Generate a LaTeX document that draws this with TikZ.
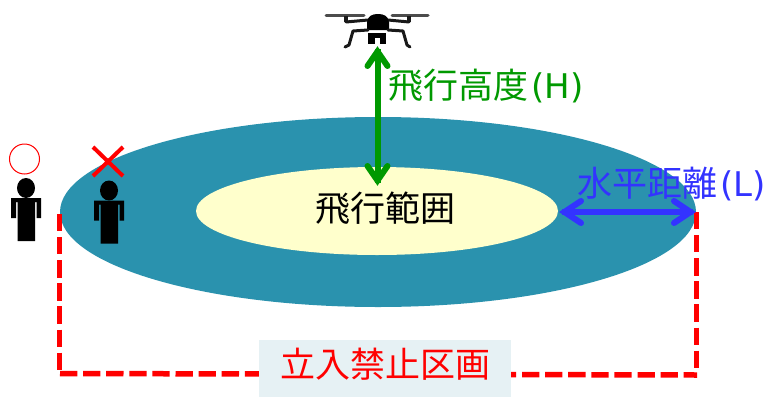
\documentclass[tikz,border=0pt]{standalone}
\usepackage{fontspec}
\setmainfont{Noto Sans CJK JP}
\newfontfamily\latinlab{DejaVu Sans}
\usetikzlibrary{arrows.meta}
\definecolor{teal1}{HTML}{2A92AE}
\definecolor{cream}{HTML}{FFFFCC}
\definecolor{lab}{HTML}{E6F1F4}
\definecolor{grn}{HTML}{009900}
\definecolor{blu}{HTML}{3333FF}
\pgfdeclarearrow{
  name=Chev,
  parameters={\the\pgfarrowlength,\the\pgfarrowwidth},
  defaults={length=22pt,width=22pt},
  setup code={
    \pgfarrowssettipend{0pt}
    \pgfarrowssetlineend{-4pt}
    \pgfarrowssetvisualbackend{-\pgfarrowlength}
    \pgfarrowssetbackend{-\pgfarrowlength}
    \pgfarrowshullpoint{0pt}{0pt}
    \pgfarrowsupperhullpoint{-\pgfarrowlength}{.5\pgfarrowwidth}
    \pgfarrowssavethe\pgfarrowlength
    \pgfarrowssavethe\pgfarrowwidth
  },
  drawing code={
    \pgfsetdash{}{0pt}
    \pgfsetlinewidth{6pt}
    \pgfsetroundcap
    \pgfsetmiterjoin
    \pgfpathmoveto{\pgfqpoint{-\pgfarrowlength}{.5\pgfarrowwidth}}
    \pgfpathlineto{\pgfqpoint{-6.5pt}{0pt}}
    \pgfpathlineto{\pgfqpoint{-\pgfarrowlength}{-.5\pgfarrowwidth}}
    \pgfusepathqstroke
  }
}
\tikzset{
 lbl/.style={inner sep=0pt,font=\fontsize{35}{35}\selectfont},
 dashline/.style={draw=red,line width=5.5pt,dash pattern=on 17.3pt off 5.8pt},
 grnarrow/.style={draw=grn,line width=6pt,{Chev[length=21pt,width=20pt]}-{Chev[length=21pt,width=20pt]}},
 bluarrow/.style={draw=blu,line width=6pt,{Chev[length=23pt,width=22pt]}-{Chev[length=23pt,width=22pt]}},
 dronepart/.style={draw=black!90,line width=3pt,line cap=round,line join=round},
}
\newcommand{\latn}[1]{{\hspace{3pt}\latinlab\fontsize{34}{35}\selectfont #1}}
\newcommand{\personfig}[2]{%
 \begin{scope}[shift={(#1,#2)}]
  \fill (26,188) ellipse [x radius=9,y radius=10];
  \fill (11,198) -- (41,198) -- (41,218) -- (36.5,218) -- (36.5,202) -- (35,202) -- (35,241) -- (17.5,241) -- (17.5,202) -- (16,202) -- (16,218) -- (11,218) -- cycle;
 \end{scope}}
\begin{document}
\begin{tikzpicture}[x=1pt,y=-1pt]
\useasboundingbox (0,0) rectangle (765,399);
\fill[white] (0,0) rectangle (765,399);
\fill[teal1] (378,212) ellipse [x radius=318,y radius=95];
\fill[cream] (377,211) ellipse [x radius=181,y radius=44];
% drone
\draw[dronepart,black!70] (326,15) -- (364,15);
\draw[dronepart,black!70] (392,15) -- (428,15);
\draw[dronepart,line width=4pt,line cap=butt] (346,16) -- (346,22);
\draw[dronepart,line width=4pt,line cap=butt] (409,16) -- (409,22);
\draw[dronepart] (346,22) -- (368,20);
\draw[dronepart] (409,22) -- (388,20);
\fill[black] (367,30) -- (367,22) .. controls (368,16) and (372,14) .. (378,14) .. controls (384,14) and (388,16) .. (389,22) -- (389,30) -- cycle;
\draw[dronepart] (368,30) -- (353,31) -- (349,45) -- (345,47);
\draw[dronepart] (388,30) -- (403,31) -- (407,45) -- (410,47);
\fill[black] (368,33) rectangle (386,44);
\fill[white] (375,38) rectangle (380,44);
% dashed boundary
\coordinate (dl) at (59.5,214);
\coordinate (dlb) at (59.5,371);
\coordinate (bl) at (60,373.5);
\coordinate (br) at (697,375);
\coordinate (dr) at (696.5,212);
\coordinate (drb) at (696.5,369);
\draw[dashline] (dl) -- (dlb);
\draw[dashline] (bl) -- (br);
\draw[dashline] (dr) -- (drb);
% label
\node[fill=lab,minimum width=252pt,minimum height=57pt,inner sep=0pt] (zone) at (385,368.5) {};
\node[lbl,text=red] (zonet) at (385,364) {立入禁止区画};
% arrows
\coordinate (gt) at (377.5,45);
\coordinate (gb) at (377.5,187);
\draw[grnarrow] (gt) -- (gb);
\coordinate (bl2) at (558,212);
\coordinate (br2) at (697,212);
\draw[bluarrow] (bl2) -- (br2);
% texts
\node[lbl,text=grn,anchor=west] (h) at (388,86) {飛行高度\latn{(H)}};
\node[lbl,text=blu,anchor=west] (l) at (577,184) {水平距離\latn{(L)}};
\node[lbl,text=black] (f) at (385,208) {飛行範囲};
% people
\personfig{0}{0}
\personfig{83}{2.5}
\draw[red,line width=1pt] (24.5,159) circle [radius=15];
\draw[red,line width=4pt] (93,147) -- (123,176) (123,147) -- (93,176);
\end{tikzpicture}
\end{document}
